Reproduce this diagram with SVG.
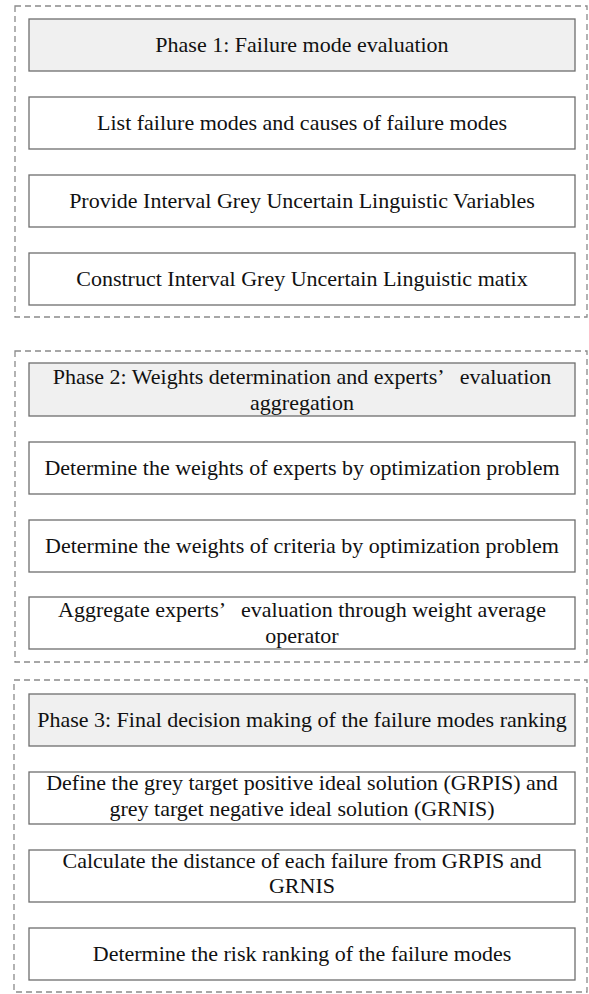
<svg xmlns="http://www.w3.org/2000/svg" width="589" height="994" viewBox="0 0 589 994">
  <style>
    .phase { fill: none; stroke: #8a8a8a; stroke-width: 1.3; stroke-dasharray: 6 4; }
    .head { fill: #f0f0f0; stroke: #6e6e6e; stroke-width: 1.3; }
    .step { fill: #ffffff; stroke: #6e6e6e; stroke-width: 1.3; }
    text { font-family: "Liberation Serif", "Times New Roman", serif; font-size: 22px; fill: #111; text-anchor: middle; }
  </style>
  <rect width="589" height="994" fill="#ffffff"/>

  <!-- phase containers -->
  <g id="phase-frames">
    <rect class="phase" x="15" y="6" width="572" height="311"/>
    <rect class="phase" x="15" y="351" width="572" height="311"/>
    <rect class="phase" x="14" y="680" width="573" height="312"/>
  </g>

  <!-- Phase 1 -->
  <g id="p1-head">
    <rect class="head" x="29" y="19" width="546" height="52"/>
    <text x="302" y="52">Phase 1: Failure mode evaluation</text>
  </g>
  <g id="p1-list">
    <rect class="step" x="29" y="97" width="546" height="52"/>
    <text x="302" y="130">List failure modes and causes of failure modes</text>
  </g>
  <g id="p1-provide">
    <rect class="step" x="29" y="175" width="546" height="52"/>
    <text x="302" y="208">Provide Interval Grey Uncertain Linguistic Variables</text>
  </g>
  <g id="p1-construct">
    <rect class="step" x="29" y="253" width="546" height="52"/>
    <text x="302" y="286">Construct Interval Grey Uncertain Linguistic matix</text>
  </g>

  <!-- Phase 2 -->
  <g id="p2-head">
    <rect class="head" x="29" y="363" width="546" height="53"/>
    <text x="302" y="384">Phase 2: Weights determination and experts’<tspan dx="15">evaluation</tspan></text>
    <text x="302" y="410">aggregation</text>
  </g>
  <g id="p2-experts">
    <rect class="step" x="29" y="442" width="546" height="52"/>
    <text x="302" y="475">Determine the weights of experts by optimization problem</text>
  </g>
  <g id="p2-criteria">
    <rect class="step" x="29" y="520" width="546" height="52"/>
    <text x="302" y="553">Determine the weights of criteria by optimization problem</text>
  </g>
  <g id="p2-aggregate">
    <rect class="step" x="29" y="597" width="546" height="52"/>
    <text x="302" y="617">Aggregate experts’<tspan dx="15">evaluation through weight average</tspan></text>
    <text x="302" y="643">operator</text>
  </g>

  <!-- Phase 3 -->
  <g id="p3-head">
    <rect class="head" x="29" y="694" width="546" height="52"/>
    <text x="302" y="727">Phase 3: Final decision making of the failure modes ranking</text>
  </g>
  <g id="p3-define">
    <rect class="step" x="29" y="772" width="546" height="52"/>
    <text x="302" y="790">Define the grey target positive ideal solution (GRPIS) and</text>
    <text x="302" y="816">grey target negative ideal solution (GRNIS)</text>
  </g>
  <g id="p3-distance">
    <rect class="step" x="29" y="850" width="546" height="52"/>
    <text x="302" y="868">Calculate the distance of each failure from GRPIS and</text>
    <text x="302" y="893">GRNIS</text>
  </g>
  <g id="p3-rank">
    <rect class="step" x="29" y="928" width="546" height="52"/>
    <text x="302" y="961">Determine the risk ranking of the failure modes</text>
  </g>

  <!-- no connectors between steps -->
  <g id="connectors"/>
</svg>
